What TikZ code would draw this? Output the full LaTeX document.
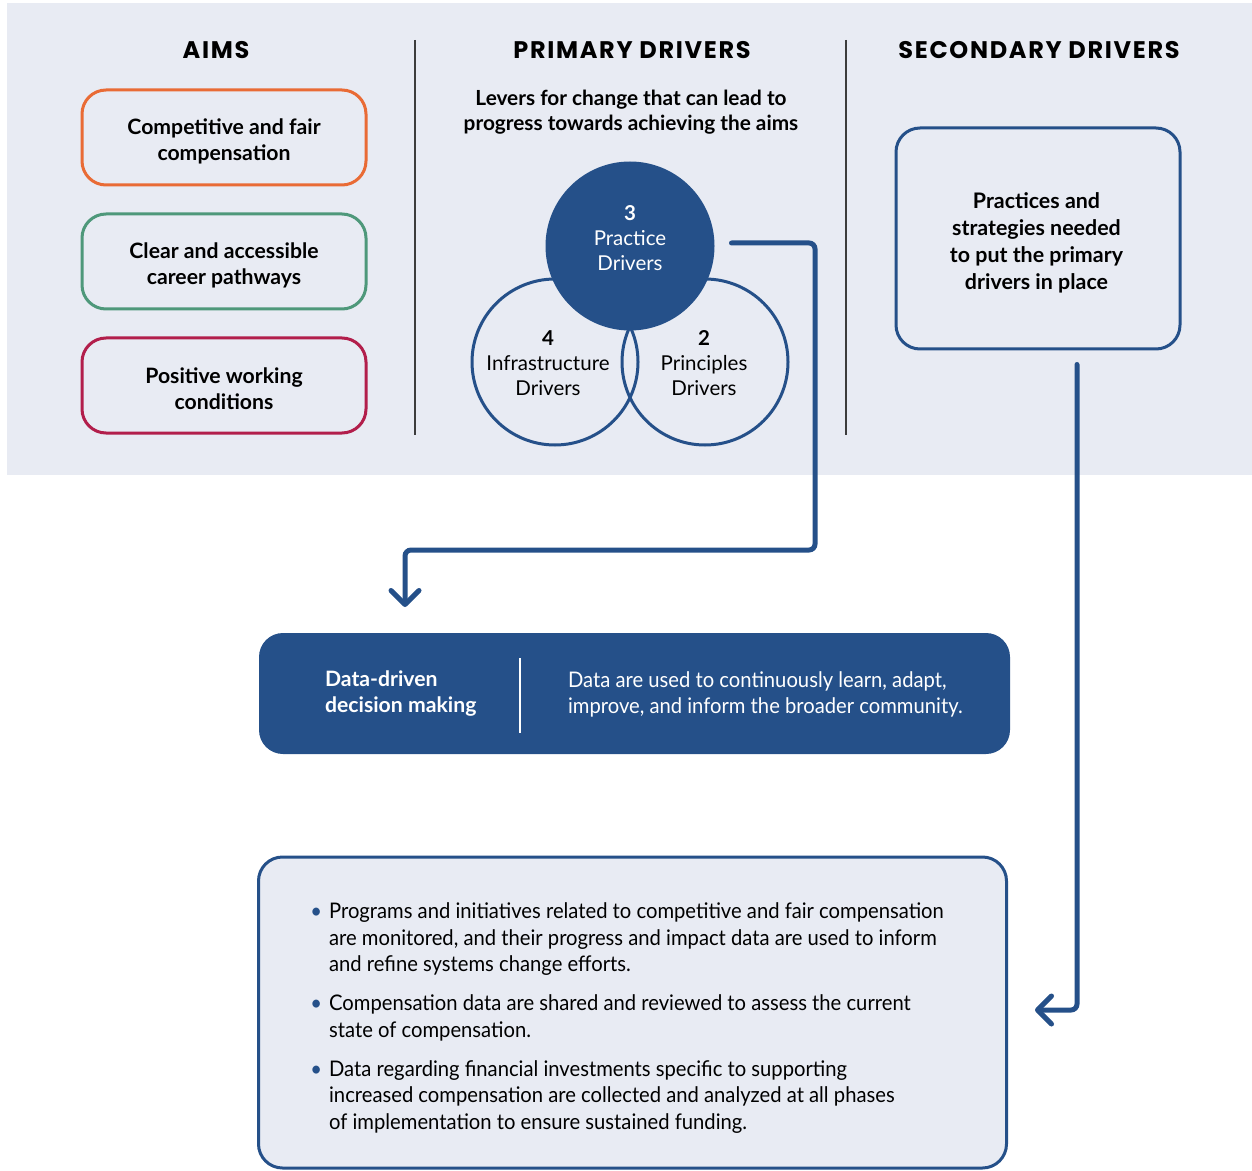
\documentclass[tikz,border=0pt]{standalone}
\usepackage{fontspec}
\setmainfont{Lato}
\newfontfamily\headfont{Poppins}[LetterSpace=7]
\newfontfamily\narrowfont{Lato}[FakeStretch=0.94]
\usetikzlibrary{arrows.meta,positioning,calc}
\definecolor{panelGray}{RGB}{232,235,243}
\definecolor{driverBlue}{RGB}{37,80,137}
\definecolor{aimOrange}{RGB}{233,107,53}
\definecolor{aimGreen}{RGB}{78,152,122}
\definecolor{aimRed}{RGB}{178,30,75}
\definecolor{ruleGray}{RGB}{60,60,60}
\newcommand{\bitem}[1]{\textcolor{driverBlue}{\textbullet}\hspace{3.5pt}\begin{tabular}[t]{@{}l@{}}#1\end{tabular}}
\tikzset{
  head/.style={font=\headfont\bfseries\fontsize{12}{14}\selectfont},
  aim/.style={draw,line width=1.5pt,rounded corners=12pt,minimum width=142pt,minimum height=47.5pt},
  aimtxt/.style={font=\bfseries\fontsize{10.6}{13.25}\selectfont,align=center},
  ring/.style={draw=driverBlue,circle,line width=1.5pt,minimum size=83pt,inner sep=0pt},
  ringtxt/.style={font=\fontsize{10.25}{12.5}\selectfont,align=center},
  secbox/.style={draw=driverBlue,line width=1.5pt,rounded corners=12pt,minimum width=142pt,
                 minimum height=110.5pt},
  flow/.style={driverBlue,line width=2.5pt,rounded corners=3pt,line cap=round,
               -{Straight Barb[length=7pt,width=14pt,line cap=round,line join=round]}},
  divider/.style={ruleGray,line width=0.75pt},
}

\begin{document}
\begin{tikzpicture}[x=0.5pt,y=-0.5pt,node distance=13pt]
  \useasboundingbox (0,0) rectangle (1252,1171);
  \fill[panelGray] (7,3) rectangle (1252,475);
  \draw[divider] (415,40) -- (415,435);
  \draw[divider] (846,40) -- (846,435);

  % column headings
  \node[head] (aimsT) at (216,50)  {AIMS};
  \node[head] (primT) at (632,50)  {PRIMARY DRIVERS};
  \node[head] (secT)  at (1039,50) {SECONDARY DRIVERS};

  % aims
  \node[aim,draw=aimOrange]              (comp) at (224,137.5) {};
  \node[aim,draw=aimGreen,below=of comp] (path) {};
  \node[aim,draw=aimRed,below=of path]   (work) {};
  \node[aimtxt] (compL) at ([yshift=-2pt]comp.center) {Competitive and fair\\compensation};
  \node[aimtxt] (pathL) at ([yshift=-2pt]path.center) {Clear and accessible\\career pathways};
  \node[aimtxt] (workL) at ([yshift=-1.5pt]work.center) {Positive working\\conditions};

  % primary drivers
  \node[font=\bfseries\fontsize{10.4}{12.5}\selectfont,align=center] (lever) at (631,112)
       {Levers for change that can lead to\\progress towards achieving the aims};
  \node[ring] (infra) at (555,362) {};
  \node[ring] (princ) at (705,362) {};
  \node[ring,fill=driverBlue] (prac) at (630,246) {};
  \node[ringtxt] (infraL) at ([xshift=-3.5pt,yshift=-0.5pt]infra.center) {\textbf{4}\\Infrastructure\\Drivers};
  \node[ringtxt] (princL) at ([xshift=-0.5pt,yshift=-0.5pt]princ.center) {\textbf{2}\\Principles\\Drivers};
  \node[ringtxt,text=white] (pracL) at ([yshift=4pt]prac.center) {\textbf{3}\\Practice\\Drivers};

  % secondary drivers
  \node[secbox] (sec) at (1038,238.5) {};
  \node[font=\bfseries\fontsize{10.7}{13.4}\selectfont,align=center] (secL) at ([xshift=-0.75pt,yshift=-2.25pt]sec.center)
       {Practices and\\strategies needed\\to put the primary\\drivers in place};

  % data-driven decision making
  \node[fill=driverBlue,rounded corners=12pt,minimum width=375.5pt,minimum height=60.5pt] (datab) at (634.5,693.5) {};
  \node[anchor=west,text=white,align=left,font=\bfseries\fontsize{10.6}{13}\selectfont] (dataL) at (318,694)
       {Data-driven\\decision making};
  \draw[white,line width=0.75pt] (520,658) -- (520,733);
  \node[anchor=west,text=white,align=left,font=\narrowfont\fontsize{10.75}{13}\selectfont] (dataR) at (561,694)
       {Data are used to continuously learn, adapt,\\improve, and inform the broader community.};

  % bullet box
  \node[draw=driverBlue,fill=panelGray,line width=1.5pt,rounded corners=12pt,minimum width=374pt,
        minimum height=155.5pt] (bulb) at (632.5,1012.5) {};
  \node[anchor=north west,inner sep=0pt,align=left,font=\narrowfont\fontsize{10.75}{13.25}\selectfont] (blist) at (310,900)
       {\bitem{Programs and initiatives related to competitive and fair compensation\\
               are monitored, and their progress and impact data are used to inform\\
               and refine systems change efforts.}\\[5.25pt]
        \bitem{Compensation data are shared and reviewed to assess the current\\
               state of compensation.}\\[5.25pt]
        \bitem{Data regarding financial investments specific to supporting\\
               increased compensation are collected and analyzed at all phases\\
               of implementation to ensure sustained funding.}};

  % connectors
  \coordinate (tipA) at (405,607);
  \coordinate (tipB) at (1035,1010);
  \draw[flow] ([xshift=8.5pt,yshift=1.5pt]prac.east) -| (815,550) -| (tipA);
  \draw[flow] ([xshift=19.5pt,yshift=-7pt]sec.south) |- (tipB);
\end{tikzpicture}
\end{document}
